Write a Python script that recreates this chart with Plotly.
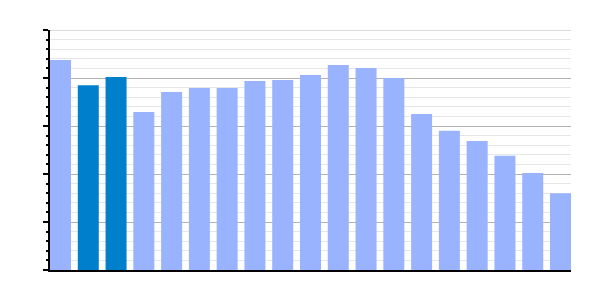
import plotly.graph_objects as go

categories = list(range(19))
values = [4.375, 3.85, 4.02, 3.29, 3.71, 3.79, 3.79, 3.94, 3.96, 4.06,
          4.27, 4.21, 4.0, 3.25, 2.9, 2.69, 2.38, 2.02, 1.6]
highlight = [False, True, True] + [False] * 16
y_max = 5

LIGHT = "#99b3ff"
DARK = "#0080cc"
colors = [DARK if h else LIGHT for h in highlight]

bw = 0.756
fig = go.Figure(go.Bar(x=categories, y=values, marker_color=colors,
                       marker_line_width=0, width=bw))
fig.update_layout(
    width=600, height=300,
    margin=dict(l=50, r=29, t=30, b=30),
    paper_bgcolor="white", plot_bgcolor="white",
    showlegend=False,
)
# top major gridline (plotly culls gridlines at the range edge)
fig.add_shape(type="line", xref="paper", yref="y", x0=0, x1=1, y0=y_max, y1=y_max,
              line=dict(color="#b3b3b3", width=1), layer="below")
fig.update_xaxes(range=[-bw / 2, 18 + bw / 2], showticklabels=False, ticks="",
                 showgrid=False, zeroline=False, showline=True,
                 linecolor="black", linewidth=2)
fig.update_yaxes(range=[0, y_max], dtick=1, tick0=0, showticklabels=False,
                 ticks="outside", ticklen=5, tickcolor="black", tickwidth=2,
                 showgrid=True, gridcolor="#b3b3b3", gridwidth=1,
                 zeroline=False, showline=True, linecolor="black", linewidth=2,
                 minor=dict(dtick=0.2, tick0=0, showgrid=True, gridcolor="#e6e6e6",
                            gridwidth=1, ticks="outside", ticklen=2,
                            tickcolor="black", tickwidth=2))
fig.write_html("out.html")
